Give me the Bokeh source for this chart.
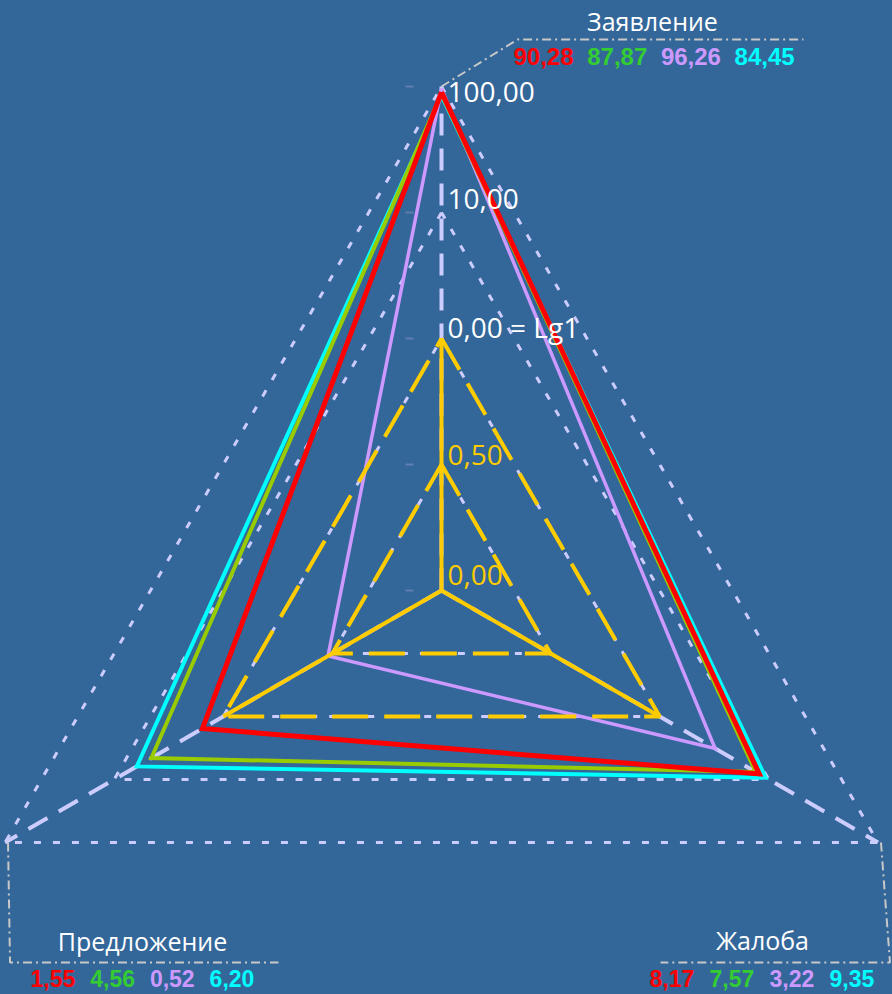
import math
from bokeh.plotting import figure
from bokeh.models import Range1d, GlobalInlineStyleSheet
from bokeh.core.properties import value
from bokeh.embed import file_html
from bokeh.resources import INLINE

# ---------------- data ----------------
axes_names = ["Заявление", "Жалоба", "Предложение"]
zayavlenie = [90.28, 87.87, 96.26, 84.45]
zhaloba = [8.17, 7.57, 3.22, 9.35]
predlozhenie = [1.55, 4.56, 0.52, 6.20]
line_colors = ["#ff0000", "#99cc00", "#cc99ff", "#00ffff"]
label_colors = ["#ff0000", "#33cc33", "#cc99ff", "#00ffff"]
line_widths = [5, 4, 3.5, 4]
draw_order = [3, 2, 1, 0]  # cyan, lavender, green, red on top

inner_levels = [0.5, 1.0]          # linear part
outer_levels = [10.0, 100.0]        # log part
level_labels = ["0,00", "0,50", "0,00 = Lg1", "10,00", "100,00"]
level_values = [0.0, 0.5, 1.0, 10.0, 100.0]
level_label_colors = ["#ffcc00", "#ffcc00", "#ffffff", "#ffffff", "#ffffff"]

# ---------------- layout ----------------
W, H = 892, 994
CX, CY, U = 441.0, 590.0, 126.0
ANG = [90.0, -30.0, 210.0]
BG = "#336699"
LAV = "#ccccff"
YEL = "#ffcc00"
GRAY = "#c8c8c8"
TDY = -9  # text baseline correction


def radius(v):
    return 2.0 * v if v <= 1.0 else 2.0 + math.log10(v)


def pt(v, ang):
    r = radius(v) * U
    a = math.radians(ang)
    return CX + r * math.cos(a), CY - r * math.sin(a)


def tri(v):
    xs, ys = [], []
    for a in ANG + [ANG[0]]:
        x, y = pt(v, a)
        xs.append(x)
        ys.append(y)
    return xs, ys


css = "html,body{margin:0;padding:0;overflow:hidden;background-color:%s;}" % BG
p = figure(width=W, height=H, x_range=Range1d(0, W), y_range=Range1d(H, 0),
           x_axis_type=None, y_axis_type=None, toolbar_location=None,
           output_backend="svg", min_border=0,
           background_fill_color=BG, border_fill_color=BG, outline_line_color=None,
           stylesheets=[GlobalInlineStyleSheet(css=css)])
p.grid.visible = False

# lavender dotted grid triangles
for v in inner_levels + outer_levels:
    xs, ys = tri(v)
    p.line(xs, ys, line_color=LAV, line_width=3, line_dash="7 12")

# lavender dashed axes
for a in ANG:
    x1, y1 = pt(100.0, a)
    p.line([CX, x1], [CY, y1], line_color=LAV, line_width=4, line_dash="22 13")

# faint tick marks
for v in level_values:
    _, y = pt(v, 90.0)
    p.line([CX - 36, CX - 28], [y, y], line_color="#5f7fb0", line_width=2)

# data polygons
for i in draw_order:
    vals = [zayavlenie[i], zhaloba[i], predlozhenie[i]]
    xs, ys = [], []
    for v, a in zip(vals + [vals[0]], ANG + [ANG[0]]):
        x, y = pt(v, a)
        xs.append(x)
        ys.append(y)
    p.line(xs, ys, line_color=line_colors[i], line_width=line_widths[i], line_join="miter")

# yellow dashed inner triangles
for v in inner_levels:
    xs, ys = tri(v)
    p.line(xs, ys, line_color=YEL, line_width=4, line_dash="36 16")

# yellow solid inner axes
for a in ANG:
    x1, y1 = pt(1.0, a)
    p.line([CX, x1], [CY, y1], line_color=YEL, line_width=4)

# level labels
label_dy = [-7, -1, -3, -5, 14]
lx, ly = [], []
for v, dy in zip(level_values, label_dy):
    _, y = pt(v, 90.0)
    lx.append(CX + 6)
    ly.append(y + dy + TDY)
p.text(x=lx, y=ly, text=level_labels, text_color=level_label_colors,
       text_font=value("Open Sans"), text_font_size="28px",
       text_align="left", text_baseline="alphabetic")

# callout lines
tx, ty = pt(100.0, 90.0)
p.line([tx, 517, 803], [ty, 39, 39], line_color=GRAY, line_width=2, line_dash="9 4 2 4")
lx0, ly0 = pt(100.0, 210.0)
p.line([lx0 + 3, lx0 + 5, 278], [ly0, 962, 962], line_color=GRAY, line_width=2, line_dash="9 4 2 4")
rx0, ry0 = pt(100.0, -30.0)
p.line([rx0 + 3, rx0 + 12, 660], [ry0, 962, 962], line_color=GRAY, line_width=2, line_dash="9 4 2 4")

# axis titles
p.text(x=[652, 762, 142], y=[29 + TDY, 948 + TDY, 949 + TDY],
       text=[axes_names[0], axes_names[1], axes_names[2]],
       text_color="#ffffff", text_font=value("Open Sans"), text_font_size="25px",
       text_align="center", text_baseline="alphabetic")

# value labels
groups = [(zayavlenie, 513, 73.7, 65, "24px"), (predlozhenie, 30, 59.7, 987, "23px"),
          (zhaloba, 649, 60.0, 987, "23px")]
for vals, x0, step, yb, fs in groups:
    p.text(x=[x0 + k * step for k in range(len(vals))], y=[yb + TDY] * len(vals),
           text=[("%.2f" % v).replace(".", ",") for v in vals],
           text_color=label_colors, text_font=value("Liberation Sans"),
           text_font_style="bold", text_font_size=fs,
           text_align="left", text_baseline="alphabetic")

open("out.html", "w").write(file_html(p, INLINE))
